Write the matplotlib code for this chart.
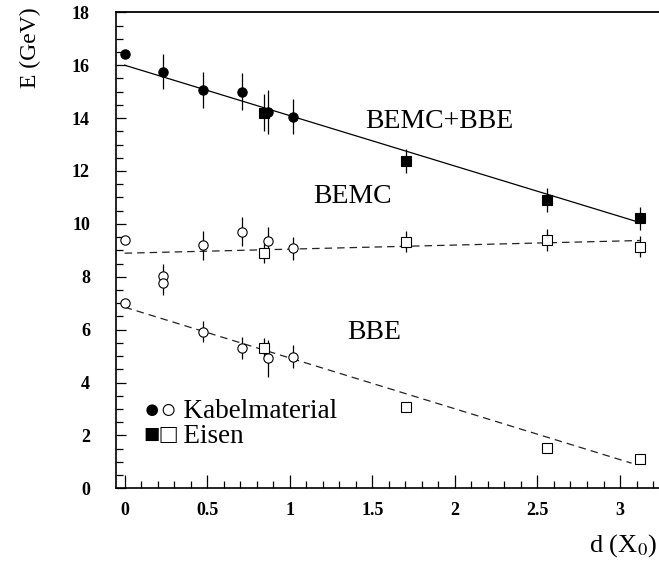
import matplotlib
matplotlib.use("Agg")
import matplotlib.pyplot as plt
from matplotlib.ticker import MultipleLocator, FixedLocator

plt.rcParams['font.family'] = ['Liberation Serif', 'DejaVu Serif']

# Absorber thickness d in radiation lengths
d_kabel = [0.0, 0.234, 0.472, 0.709, 0.866, 1.017]
d_eisen = [0.844, 1.704, 2.556, 3.12]

# BEMC+BBE (total energy)
sum_kabel = [16.41, 15.75, 15.06, 15.00, 14.24, 14.05]
sum_kabel_err = [0.0, 0.66, 0.68, 0.70, 0.83, 0.67]
sum_eisen = [14.21, 12.38, 10.90, 10.21]
sum_eisen_err = [0.69, 0.44, 0.44, 0.43]

# BEMC
d_bemc_kabel = [0.0, 0.234, 0.472, 0.709, 0.866, 1.017]
bemc_kabel = [9.39, 8.03, 9.19, 9.71, 9.34, 9.08]
bemc_kabel_err = [0.0, 0.45, 0.54, 0.56, 0.55, 0.44]
bemc_eisen = [8.91, 9.33, 9.39, 9.14]
bemc_eisen_err = [0.38, 0.41, 0.41, 0.40]

# BBE
d_bbe_kabel = [0.0, 0.234, 0.472, 0.709, 0.866, 1.017]
bbe_kabel = [7.02, 7.75, 5.92, 5.32, 4.92, 4.98]
bbe_kabel_err = [0.0, 0.45, 0.39, 0.42, 0.70, 0.44]
bbe_eisen = [5.29, 3.09, 1.51, 1.11]
bbe_eisen_err = [0.40, 0.15, 0.10, 0.10]

# Straight-line fits (start and end points)
fit_sum_d, fit_sum_e = [0.0, 3.12], [16.0, 10.05]
fit_bemc_d, fit_bemc_e = [0.0, 3.12], [8.89, 9.37]
fit_bbe_d, fit_bbe_e = [0.0, 3.07], [6.85, 0.95]

x_ticks = [0, 0.5, 1, 1.5, 2, 2.5, 3]
x_tick_labels = ["0", "0.5", "1", "1.5", "2", "2.5", "3"]
y_ticks = [0, 2, 4, 6, 8, 10, 12, 14, 16, 18]

W, H = 659, 573
fig = plt.figure(figsize=(W / 100, H / 100), dpi=100)
ax = fig.add_axes([116.4 / W, 84.7 / H, 544.9 / W, 476.0 / H])
ax.set_xlim(-0.05, 3.25)
ax.set_ylim(0, 18)

# fits
ax.plot(fit_sum_d, fit_sum_e, color='black', lw=0.9, zorder=2)
ax.plot(fit_bemc_d, fit_bemc_e, color='#222222', lw=0.9, dashes=(6, 4), zorder=2)
ax.plot(fit_bbe_d, fit_bbe_e, color='#222222', lw=0.9, dashes=(6, 4), zorder=2)

eb = dict(ecolor='black', elinewidth=0.9, capsize=0, linestyle='none', zorder=3)
circ = dict(marker='o', markersize=6.7, markeredgewidth=0.8, markeredgecolor='black')
sq = dict(marker='s', markersize=7.0, markeredgewidth=0.8, markeredgecolor='black')

ax.errorbar(d_kabel, sum_kabel, yerr=sum_kabel_err, markerfacecolor='black', **circ, **eb)
ax.errorbar(d_eisen, sum_eisen, yerr=sum_eisen_err, markerfacecolor='black', **sq, **eb)
ax.errorbar(d_bemc_kabel, bemc_kabel, yerr=bemc_kabel_err, markerfacecolor='white', **circ, **eb)
ax.errorbar(d_eisen, bemc_eisen, yerr=bemc_eisen_err, markerfacecolor='white', **sq, **eb)
ax.errorbar(d_bbe_kabel, bbe_kabel, yerr=bbe_kabel_err, markerfacecolor='white', **circ, **eb)
ax.errorbar(d_eisen, bbe_eisen, yerr=bbe_eisen_err, markerfacecolor='white', **sq, **eb)

# curve labels
lab = dict(fontsize=20, color='black', va='baseline', ha='left')
ax.text(1.455, 13.63, "BEMC+BBE", **lab)
ax.text(1.141, 10.78, "BEMC", **lab)
ax.text(1.347, 5.64, "BBE", **lab)

# marker key
ax.text(0.117, 2.65, "\u25cf\u25cb Kabelmaterial", fontsize=19.5, va='baseline', ha='left')
ax.text(0.117, 1.72, "\u25a0\u25a1 Eisen", fontsize=19.5, va='baseline', ha='left')

# axes styling
ax.spines['right'].set_visible(False)
ax.spines['top'].set_linewidth(1.3)
ax.spines['left'].set_linewidth(1.2)
ax.spines['bottom'].set_linewidth(1.2)

ax.xaxis.set_major_locator(FixedLocator(x_ticks))
ax.set_xticklabels(x_tick_labels)
ax.xaxis.set_minor_locator(MultipleLocator(0.1))
ax.yaxis.set_major_locator(FixedLocator(y_ticks))
ax.yaxis.set_minor_locator(MultipleLocator(0.5))

ax.tick_params(axis='x', which='major', direction='in', length=9.4, width=0.9, pad=10, top=False)
ax.tick_params(axis='x', which='minor', direction='in', length=4.7, width=0.9, top=False)
ax.tick_params(axis='y', which='major', direction='in', length=7, width=0.9, pad=19, right=False)
ax.tick_params(axis='y', which='minor', direction='in', length=5, width=0.9, right=False)
for t in ax.get_xticklabels() + ax.get_yticklabels():
    t.set_fontweight('bold')
    t.set_fontsize(13)

fig.text(30 / W, 1 - 48 / H, "E (GeV)", rotation=90, ha='center', va='center', fontsize=17)
fig.text(657 / W, 1 - 546 / H, r"d (X$_0$)", ha='right', va='center', fontsize=19,
         math_fontfamily='stix')

fig.savefig("out.png", dpi=100)
